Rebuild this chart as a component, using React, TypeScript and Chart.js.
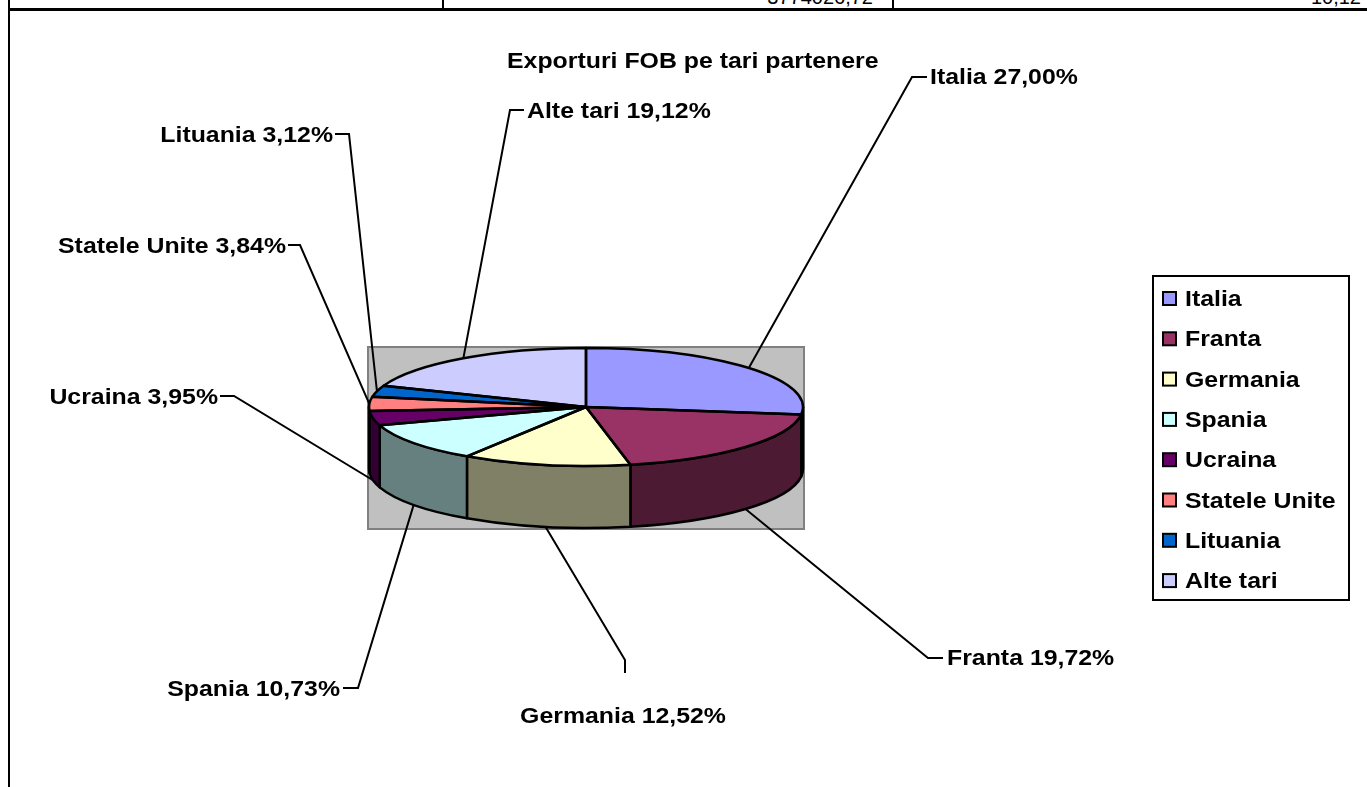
import React, { useEffect, useRef } from "react";
import { Chart, registerables } from "chart.js";

Chart.register(...registerables);

// ---- data ----
const CATEGORIES = ["Italia", "Franta", "Germania", "Spania", "Ucraina", "Statele Unite", "Lituania", "Alte tari"];
const SHARES = [27.0, 19.72, 12.52, 10.73, 3.95, 3.84, 3.12, 19.12];
const COLORS = ["#9999FF", "#993366", "#FFFFCC", "#CCFFFF", "#660066", "#FF8080", "#0066CC", "#CCCCFF"];
const CHART_TITLE = "Exporturi FOB pe tari partenere";
const TABLE_CELLS = ["3774026,72", "10,12"];

// ---- layout ----
const W = 1367;
const H = 787;
const PIE_CX = 586;
const PIE_CY = 407;
const PIE_R = 217;
const TILT = 59 / 217;
const DEPTH = 62;
const FONT = 'bold 22px "Liberation Sans", Arial, Helvetica, sans-serif';
const STRETCH = 1.13;

// label placement: text anchor, alignment, leader elbow and tick end
const LABEL_LAYOUT = [
  { tx: 930, ty: 84, align: "left", elbow: [912, 77], tick: [927, 77] },
  { tx: 947, ty: 665, align: "left", elbow: [928, 658], tick: [943, 658] },
  { tx: 623, ty: 723, align: "center", elbow: [625, 660], tick: [625, 673] },
  { tx: 340, ty: 696, align: "right", elbow: [358, 688], tick: [343, 688] },
  { tx: 218, ty: 404, align: "right", elbow: [234, 396], tick: [220, 396] },
  { tx: 286, ty: 253, align: "right", elbow: [300, 245], tick: [288, 245] },
  { tx: 333, ty: 142, align: "right", elbow: [349, 134], tick: [335, 134] },
  { tx: 527, ty: 118, align: "left", elbow: [510, 110], tick: [524, 110] },
];

const LEGEND_BOX = { x: 1153, y: 276, w: 196, h: 324 };
const LEGEND_ROW = 40.3;

function darken(hex: string): string {
  const n = parseInt(hex.slice(1), 16);
  const r = Math.round(((n >> 16) & 255) * 0.5);
  const g = Math.round(((n >> 8) & 255) * 0.5);
  const b = Math.round((n & 255) * 0.5);
  return `rgb(${r},${g},${b})`;
}

function fmt(v: number): string {
  return v.toFixed(2).replace(".", ",") + "%";
}

function stretchText(ctx: CanvasRenderingContext2D, text: string, x: number, y: number, align: string) {
  ctx.save();
  ctx.translate(x, y);
  ctx.scale(STRETCH, 1);
  ctx.font = FONT;
  ctx.fillStyle = "#000";
  ctx.textAlign = align as CanvasTextAlign;
  ctx.textBaseline = "alphabetic";
  ctx.fillText(text, 0, 0);
  ctx.restore();
}

function getArcs(chart: any) {
  const meta = chart.getDatasetMeta(0);
  return meta.data.map((a: any) => a.getProps(["x", "y", "startAngle", "endAngle", "outerRadius"], true));
}

const pie3d = {
  id: "pie3d",
  beforeDatasetsDraw(chart: any) {
    const ctx: CanvasRenderingContext2D = chart.ctx;
    const arcs = getArcs(chart);
    if (!arcs.length) return;
    const { x: cx, y: cy, outerRadius: R } = arcs[0];
    const ry = R * TILT;

    // plot area (gray)
    ctx.save();
    ctx.fillStyle = "#C0C0C0";
    ctx.fillRect(cx - R - 1, cy - ry - 1, 2 * R + 2, 2 * ry + DEPTH + 2);
    ctx.strokeStyle = "#808080";
    ctx.lineWidth = 2;
    ctx.strokeRect(cx - R - 1, cy - ry - 1, 2 * R + 2, 2 * ry + DEPTH + 2);
    ctx.restore();

    // side walls
    ctx.save();
    ctx.lineWidth = 2.5;
    ctx.strokeStyle = "#000";
    ctx.lineJoin = "round";
    arcs.forEach((a: any, i: number) => {
      const a0 = Math.max(a.startAngle, 0);
      const a1 = Math.min(a.endAngle, Math.PI);
      if (a0 >= a1) return;
      ctx.beginPath();
      ctx.ellipse(cx, cy, R, ry, 0, a0, a1, false);
      ctx.lineTo(cx + R * Math.cos(a1), cy + DEPTH + ry * Math.sin(a1));
      ctx.ellipse(cx, cy + DEPTH, R, ry, 0, a1, a0, true);
      ctx.closePath();
      ctx.fillStyle = darken(COLORS[i]);
      ctx.fill();
      ctx.stroke();
    });
    ctx.restore();

    // tilt the top face
    ctx.save();
    ctx.translate(cx, cy);
    ctx.scale(1, TILT);
    ctx.translate(-cx, -cy);
  },
  afterDatasetsDraw(chart: any) {
    const ctx: CanvasRenderingContext2D = chart.ctx;
    ctx.restore();
    const arcs = getArcs(chart);
    if (!arcs.length) return;
    const { x: cx, y: cy, outerRadius: R } = arcs[0];
    const ry = R * TILT;

    // top face outlines
    ctx.save();
    ctx.lineWidth = 2.5;
    ctx.strokeStyle = "#000";
    ctx.lineJoin = "round";
    arcs.forEach((a: any) => {
      ctx.beginPath();
      ctx.moveTo(cx, cy);
      ctx.lineTo(cx + R * Math.cos(a.startAngle), cy + ry * Math.sin(a.startAngle));
      ctx.ellipse(cx, cy, R, ry, 0, a.startAngle, a.endAngle, false);
      ctx.closePath();
      ctx.stroke();
    });
    ctx.restore();

    // leader lines and labels
    ctx.save();
    ctx.lineWidth = 2;
    ctx.strokeStyle = "#000";
    arcs.forEach((a: any, i: number) => {
      const m = (a.startAngle + a.endAngle) / 2;
      const px = cx + R * Math.cos(m);
      const py = cy + ry * Math.sin(m) + (Math.sin(m) > 0 ? DEPTH : 0);
      const L = LABEL_LAYOUT[i];
      ctx.beginPath();
      ctx.moveTo(px, py);
      ctx.lineTo(L.elbow[0], L.elbow[1]);
      ctx.lineTo(L.tick[0], L.tick[1]);
      ctx.stroke();
      stretchText(ctx, `${CATEGORIES[i]} ${fmt(SHARES[i])}`, L.tx, L.ty, L.align);
    });
    ctx.restore();
  },
  afterDraw(chart: any) {
    const ctx: CanvasRenderingContext2D = chart.ctx;
    // title
    stretchText(ctx, CHART_TITLE, 507, 68, "left");

    // legend
    ctx.save();
    ctx.fillStyle = "#fff";
    ctx.fillRect(LEGEND_BOX.x, LEGEND_BOX.y, LEGEND_BOX.w, LEGEND_BOX.h);
    ctx.lineWidth = 2;
    ctx.strokeStyle = "#000";
    ctx.strokeRect(LEGEND_BOX.x, LEGEND_BOX.y, LEGEND_BOX.w, LEGEND_BOX.h);
    const labels: string[] = chart.data.labels;
    const colors: string[] = chart.data.datasets[0].backgroundColor;
    labels.forEach((lab, i) => {
      const top = LEGEND_BOX.y + 16 + i * LEGEND_ROW;
      ctx.fillStyle = colors[i];
      ctx.fillRect(LEGEND_BOX.x + 10, top, 13, 13);
      ctx.lineWidth = 2;
      ctx.strokeStyle = "#000";
      ctx.strokeRect(LEGEND_BOX.x + 10, top, 13, 13);
      stretchText(ctx, lab, LEGEND_BOX.x + 32, top + 14, "left");
    });
    ctx.restore();
  },
};

export default function App() {
  const ref = useRef<HTMLCanvasElement | null>(null);

  useEffect(() => {
    if (!ref.current) return;
    const chart = new Chart(ref.current, {
      type: "pie",
      data: {
        labels: CATEGORIES,
        datasets: [
          {
            data: SHARES,
            backgroundColor: COLORS,
            borderWidth: 0,
            hoverBorderWidth: 0,
            hoverOffset: 0,
          } as any,
        ],
      },
      options: {
        responsive: false,
        animation: false,
        events: [],
        radius: PIE_R,
        layout: {
          padding: {
            left: PIE_CX - PIE_R,
            right: W - PIE_CX - PIE_R,
            top: PIE_CY - PIE_R,
            bottom: H - PIE_CY - PIE_R,
          },
        },
        plugins: {
          legend: { display: false },
          title: { display: false },
          tooltip: { enabled: false },
        },
      } as any,
      plugins: [pie3d as any],
    });
    return () => chart.destroy();
  }, []);

  const cellText: React.CSSProperties = {
    position: "absolute",
    top: -14,
    font: '20px "Liberation Sans", Arial, sans-serif',
    lineHeight: "23px",
    textAlign: "right",
    whiteSpace: "nowrap",
  };

  return (
    <div style={{ position: "fixed", left: 0, top: 0, width: W, height: H, overflow: "hidden", background: "#fff" }}>
      {/* fragment of the table above the chart */}
      <div style={{ ...cellText, left: 500, width: 373 }}>{TABLE_CELLS[0]}</div>
      <div style={{ ...cellText, left: 1000, width: 361 }}>{TABLE_CELLS[1]}</div>
      <div style={{ position: "absolute", left: 442, top: 0, width: 2, height: 9, background: "#000" }} />
      <div style={{ position: "absolute", left: 892, top: 0, width: 2, height: 9, background: "#000" }} />
      <div style={{ position: "absolute", left: 8, top: 8, width: W - 8, height: 3, background: "#000" }} />
      <div style={{ position: "absolute", left: 8, top: 0, width: 2, height: H, background: "#000" }} />
      <canvas ref={ref} width={W} height={H} style={{ position: "absolute", left: 0, top: 0 }} />
    </div>
  );
}
